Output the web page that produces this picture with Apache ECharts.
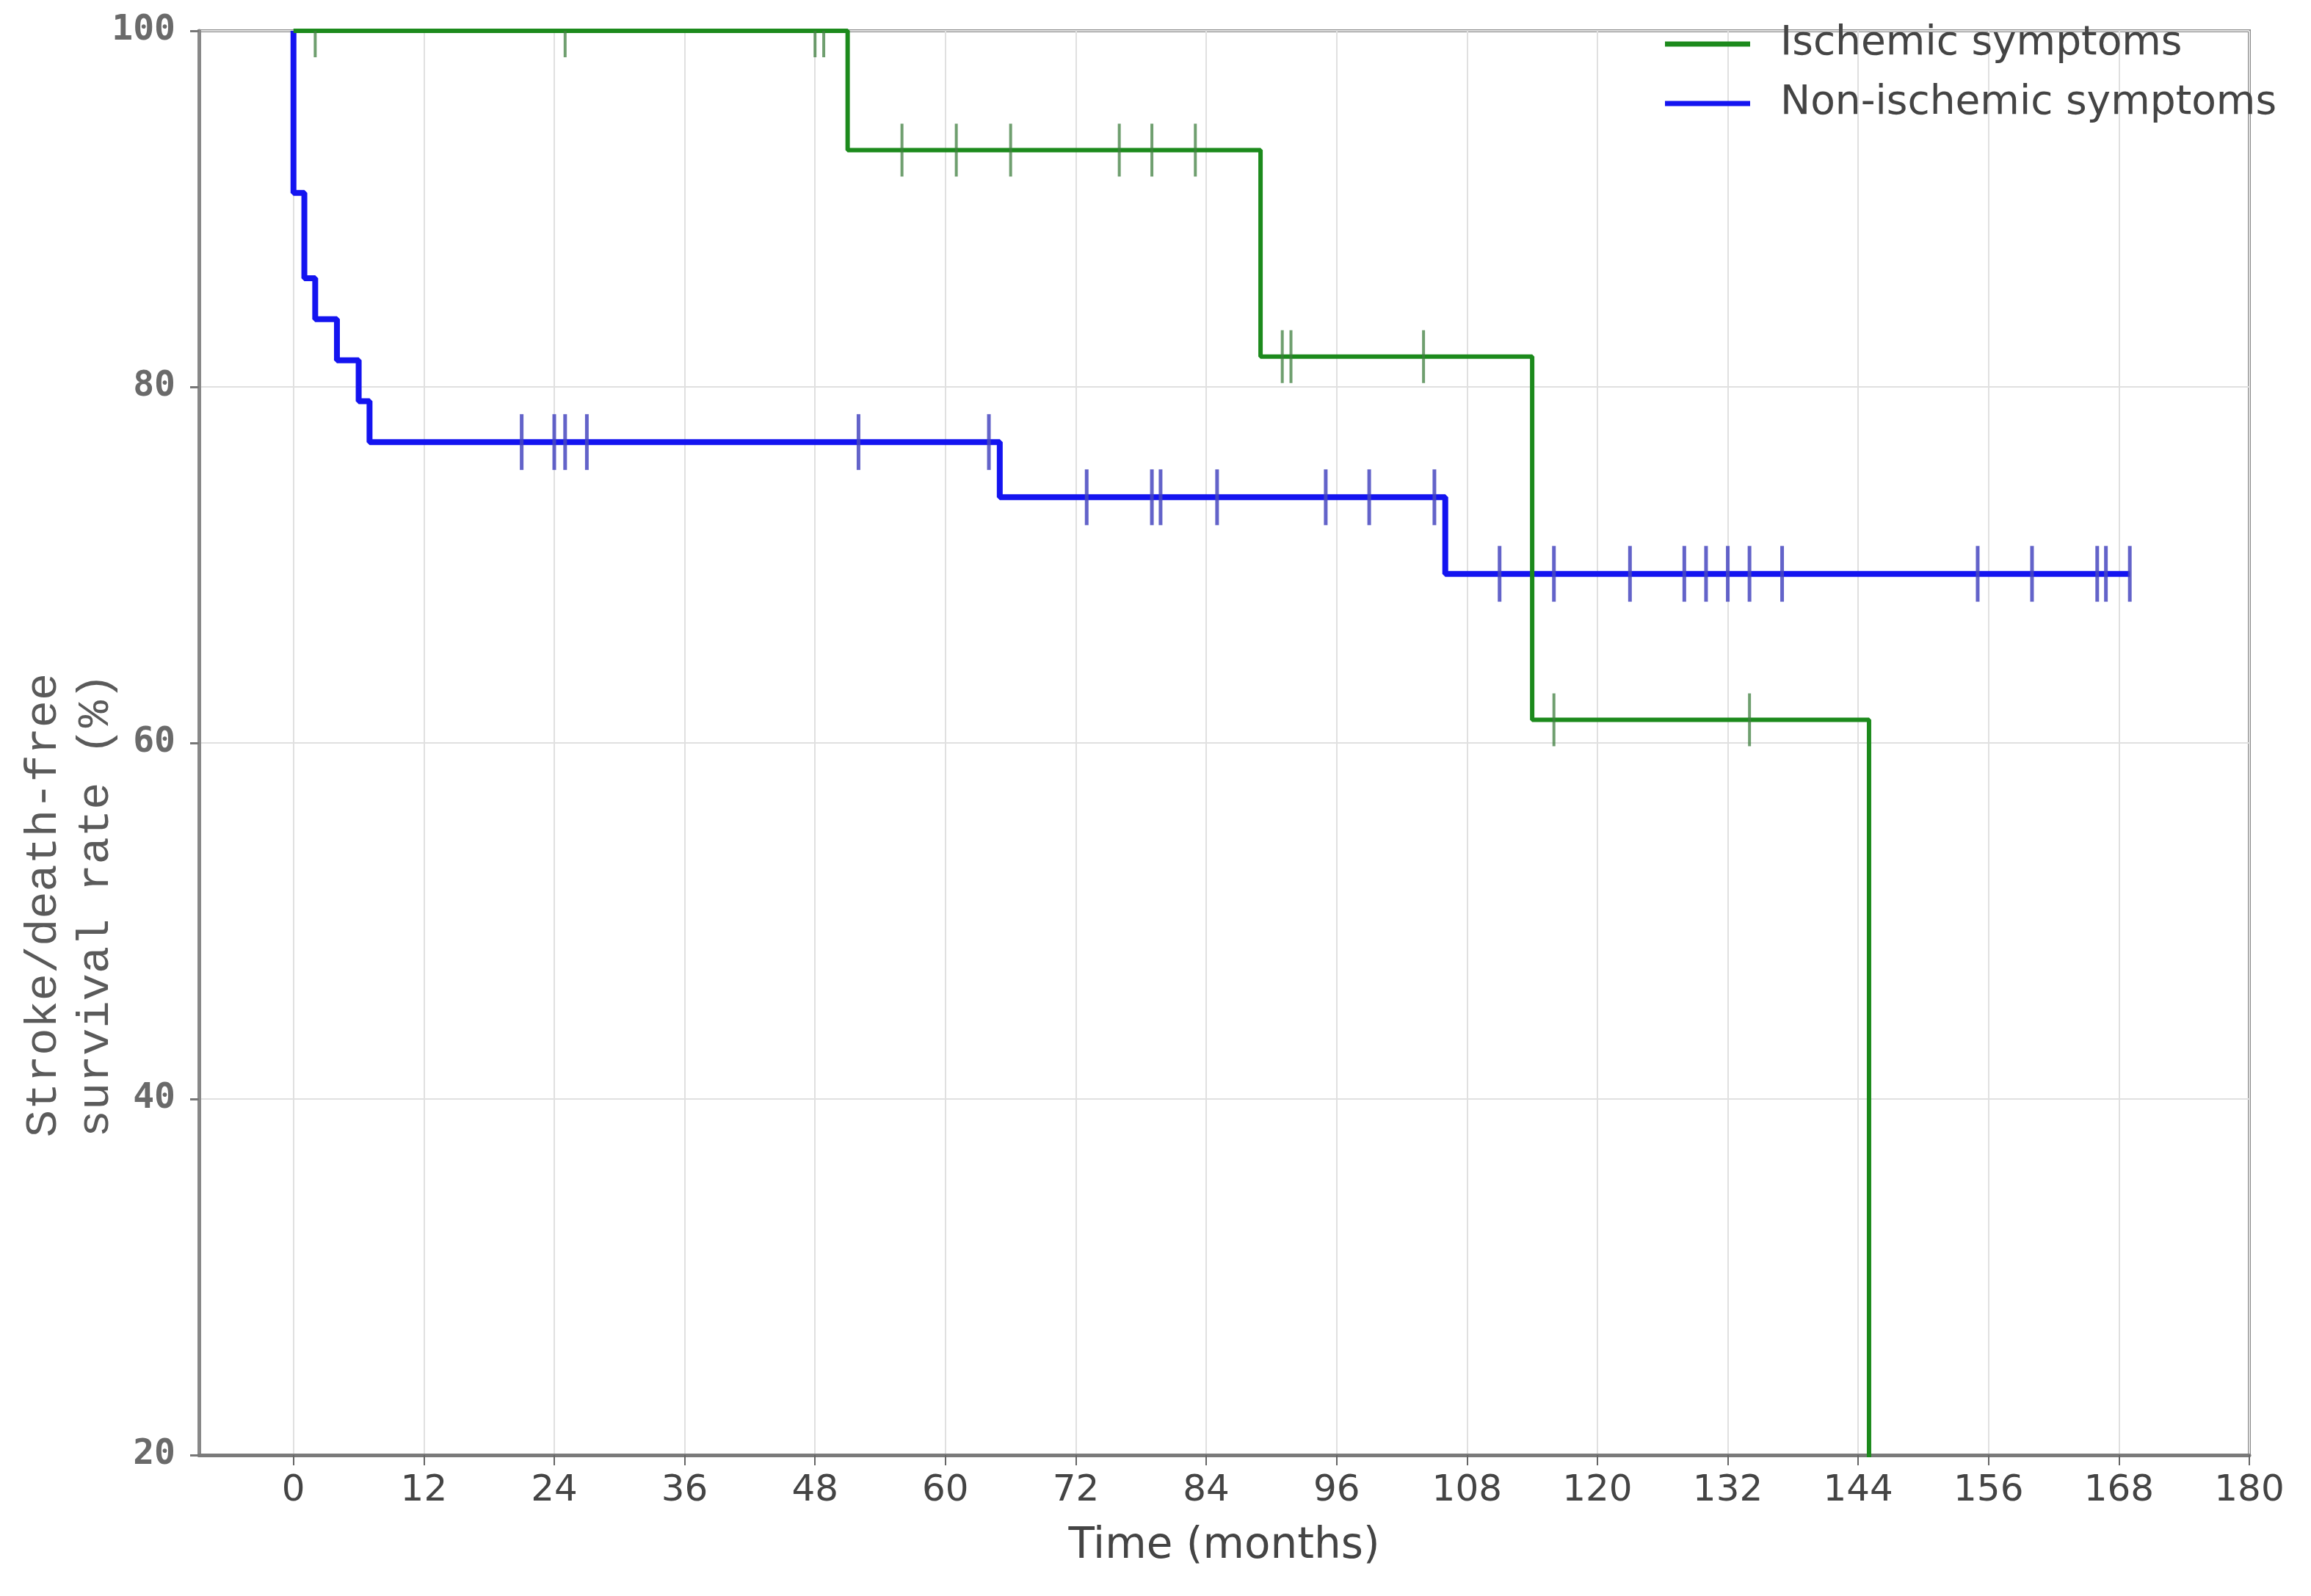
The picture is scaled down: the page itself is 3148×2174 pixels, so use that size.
<!DOCTYPE html>
<html>
<head>
<meta charset="utf-8">
<title>Stroke/death-free survival</title>
<script src="https://cdn.jsdelivr.net/npm/echarts@6/dist/echarts.min.js"></script>
<style>
  html, body { margin: 0; padding: 0; background: #fff; }
  #chart { width: 3148px; height: 2174px; }
</style>
</head>
<body>
<div id="chart"></div>
<script>
// x axis ticks (months)
const monthTicks = [0, 12, 24, 36, 48, 60, 72, 84, 96, 108, 120, 132, 144, 156, 168, 180];

// Ischemic symptoms - KM step points
const ischemicTime = [0, 51, 89, 114, 145];
const ischemicRate = [100, 93.3, 81.7, 61.3, 0];
// censored cases
const ischemicCensorTime = [2, 25, 48, 48.8, 56, 61, 66, 76, 79, 83, 91, 91.8, 104, 116, 134];
const ischemicCensorRate = [100, 100, 100, 100, 93.3, 93.3, 93.3, 93.3, 93.3, 93.3, 81.7, 81.7, 81.7, 61.3, 61.3];

// Non-ischemic symptoms - KM step points
const nonIschemicTime = [0, 0, 1, 2, 4, 6, 7, 65, 106, 169];
const nonIschemicRate = [100, 90.9, 86.1, 83.8, 81.5, 79.2, 76.9, 73.8, 69.5, 69.5];
const nonIschemicCensorTime = [21, 24, 25, 27, 52, 64, 73, 79, 79.8, 85, 95, 99, 105,
  111, 116, 123, 128, 130, 132, 134, 137, 155, 160, 166, 166.8, 169];
const nonIschemicCensorRate = [76.9, 76.9, 76.9, 76.9, 76.9, 76.9, 73.8, 73.8, 73.8, 73.8, 73.8, 73.8, 73.8,
  69.5, 69.5, 69.5, 69.5, 69.5, 69.5, 69.5, 69.5, 69.5, 69.5, 69.5, 69.5, 69.5];

const GREEN = '#1c8a1c';
const BLUE = '#1414f0';

function pairs(xs, ys) {
    return xs.map(function (x, i) { return [x, ys[i]]; });
}

// marks on the top border are half hidden like in the original plot
function censorData(xs, ys) {
    return xs.map(function (x, i) {
        if (ys[i] >= 100) {
            return { value: [x, ys[i]], symbolSize: [4, 36], symbolOffset: [0, 18] };
        }
        return [x, ys[i]];
    });
}

const chart = echarts.init(document.getElementById('chart'));

chart.setOption({
    backgroundColor: '#fff',
    animation: false,
    grid: {
        left: 271,
        right: 84,
        top: 42,
        bottom: 192,
        show: true,
        borderColor: '#8a8a8a',
        borderWidth: 4
    },
    legend: {
        orient: 'vertical',
        left: 2263,
        top: 24,
        itemGap: 19,
        itemWidth: 116,
        itemHeight: 7,
        icon: 'rect',
        data: ['Ischemic symptoms', 'Non-ischemic symptoms'],
        textStyle: {
            fontFamily: 'DejaVu Sans',
            fontSize: 55,
            lineHeight: 62,
            color: '#444',
            padding: [0, 0, 0, 36]
        }
    },
    xAxis: {
        type: 'value',
        min: -8.7,
        max: 180,
        name: 'Time (months)',
        nameLocation: 'middle',
        nameGap: 96,
        nameTextStyle: {
            fontFamily: 'DejaVu Sans',
            fontSize: 58,
            color: '#444'
        },
        axisLine: { show: true, onZero: false, lineStyle: { color: '#7a7a7a', width: 5 } },
        axisTick: {
            show: true,
            length: 14,
            customValues: monthTicks,
            lineStyle: { color: '#666', width: 2 }
        },
        axisLabel: {
            customValues: monthTicks,
            margin: 24,
            fontFamily: 'DejaVu Sans',
            fontSize: 50,
            color: '#444'
        },
        splitLine: { show: true, lineStyle: { color: '#e0e0e0', width: 2 } }
    },
    yAxis: {
        type: 'value',
        min: 20,
        max: 100,
        interval: 20,
        axisLine: { show: true, onZero: false, lineStyle: { color: '#888', width: 5 } },
        axisTick: { show: true, length: 12, lineStyle: { color: '#777', width: 3 } },
        axisLabel: {
            margin: 32,
            fontFamily: 'DejaVu Sans Mono',
            fontWeight: 'bold',
            fontSize: 48,
            color: '#6a6a6a'
        },
        splitLine: { show: true, lineStyle: { color: '#e0e0e0', width: 2 } }
    },
    graphic: [{
        type: 'text',
        x: 95,
        y: 1233,
        rotation: Math.PI / 2,
        style: {
            text: 'Stroke/death-free\nsurvival rate (%)',
            fontFamily: 'Liberation Mono',
            fontSize: 62,
            lineHeight: 71,
            fill: '#5a5a5a',
            align: 'center',
            verticalAlign: 'middle'
        }
    }],
    series: [
        {
            name: 'Non-ischemic symptoms',
            type: 'line',
            step: 'end',
            showSymbol: false,
            color: BLUE,
            lineStyle: { color: BLUE, width: 8 },
            data: pairs(nonIschemicTime, nonIschemicRate),
            z: 3
        },
        {
            name: 'Non-ischemic censored',
            type: 'scatter',
            symbol: 'rect',
            symbolSize: [5, 76],
            itemStyle: { color: '#4848c0', opacity: 0.85 },
            data: censorData(nonIschemicCensorTime, nonIschemicCensorRate),
            z: 4
        },
        {
            name: 'Ischemic symptoms',
            type: 'line',
            step: 'end',
            showSymbol: false,
            color: GREEN,
            lineStyle: { color: GREEN, width: 6 },
            data: pairs(ischemicTime, ischemicRate),
            z: 5
        },
        {
            name: 'Ischemic censored',
            type: 'scatter',
            symbol: 'rect',
            symbolSize: [4, 72],
            itemStyle: { color: '#3f7f3f', opacity: 0.75 },
            data: censorData(ischemicCensorTime, ischemicCensorRate),
            z: 6
        }
    ]
});
</script>
</body>
</html>
